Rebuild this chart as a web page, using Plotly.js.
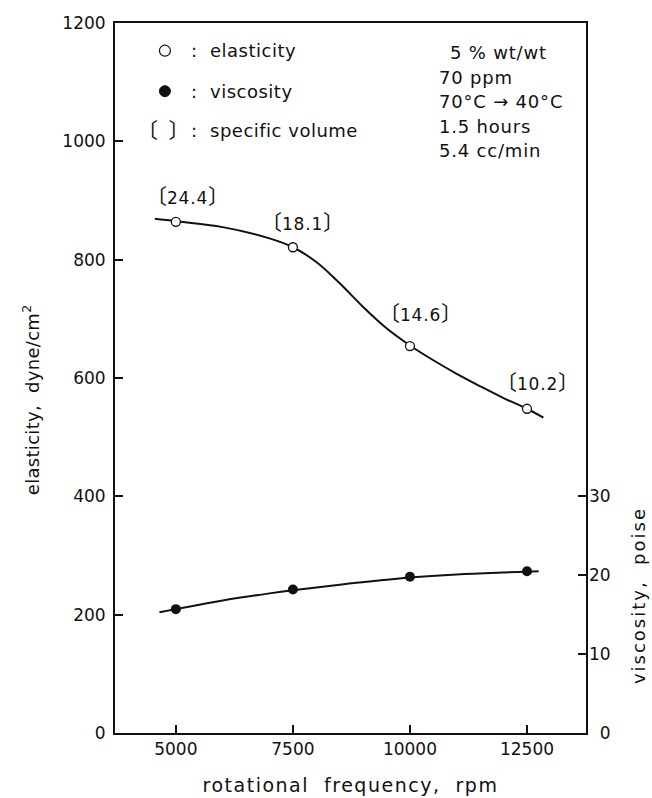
<!DOCTYPE html>
<html>
<head>
<meta charset="utf-8">
<script src="https://cdn.plot.ly/plotly-3.0.1.min.js"></script>
<style>html,body{margin:0;padding:0;background:#fff;}#chart{width:652px;height:798px;}</style>
</head>
<body>
<div id="chart"></div>
<script>
// ---- data ----
const rpm = [5000, 7500, 10000, 12500];
const elasticity = [864, 821, 654, 548];          // dyne/cm^2 (open circles)
const viscosity = [15.7, 18.2, 19.8, 20.5];       // poise (filled circles)
const specificVolume = ['24.4', '18.1', '14.6', '10.2'];

// smooth fitted curves as drawn in the reference
const elasticityCurveRpm = [4550, 5000, 6000, 7000, 7500, 8000, 8500, 9000, 9500, 10000, 10500, 11000, 11500, 12000, 12500, 12850];
const elasticityCurve    = [869,  865,  855,  836,  821,  796,  760,  720,  684,  655,   630,   607,   586,   566,   548,   533];
const viscosityCurveRpm  = [4650, 5000, 6000, 7000, 7500, 8500, 10000, 11000, 12000, 12500, 12750];
const viscosityCurve     = [15.3, 15.7, 16.8, 17.7, 18.1, 18.8, 19.7,  20.1,  20.35, 20.45, 20.5];

const xTicks = [5000, 7500, 10000, 12500];
const yTicks = [0, 200, 400, 600, 800, 1000, 1200];
const y2Ticks = [0, 10, 20, 30];
const y2TickText = ['\u20070', '10', '20', '30'];

const legendItems = [': \u00a0elasticity', ': \u00a0viscosity', ': \u00a0specific volume'];
const conditionLines = ['5 % wt/wt', '70 ppm', '70\u00b0C \u2192 40\u00b0C', '1.5 hours', '5.4 cc/min'];

const FONT = 'DejaVu Sans, Noto Sans CJK JP, sans-serif';
const BLK = '#111';
const sp = (t, px) => '<span style="letter-spacing:' + px + 'px">' + t + '</span>';
const br = (c) => '<span style="font-size:21px">' + c + '</span>';

const traces = [
  {x: elasticityCurveRpm, y: elasticityCurve, mode: 'lines', line: {color: BLK, width: 2, shape: 'spline', smoothing: 1}, hoverinfo: 'skip', showlegend: false},
  {x: viscosityCurveRpm, y: viscosityCurve, yaxis: 'y2', mode: 'lines', line: {color: BLK, width: 2, shape: 'spline', smoothing: 1}, hoverinfo: 'skip', showlegend: false},
  {x: rpm, y: elasticity, mode: 'markers', marker: {symbol: 'circle', size: 9, color: '#fff', line: {color: BLK, width: 1.3}}, showlegend: false, name: 'elasticity'},
  {x: rpm, y: viscosity, yaxis: 'y2', mode: 'markers', marker: {symbol: 'circle', size: 10, color: BLK, line: {width: 0}}, showlegend: false, name: 'viscosity'}
];

const annotations = [];
const shifts = [[12, 25], [10, 24], [11, 32], [10, 26]];
specificVolume.forEach((v, i) => {
  annotations.push({x: rpm[i], y: elasticity[i], xref: 'x', yref: 'y', text: br('\u3014') + sp(v, 0.8) + br('\u3015'), showarrow: false,
    xshift: shifts[i][0], yshift: shifts[i][1], font: {family: FONT, size: 17, color: BLK}});
});
const legY = [0.961, 0.904, 0.848];
legendItems.forEach((t, i) => {
  annotations.push({x: 0.157, y: legY[i], xref: 'paper', yref: 'paper', xanchor: 'left', yanchor: 'middle', text: sp(t, 0.5), showarrow: false,
    font: {family: FONT, size: 18, color: BLK}});
});
annotations.push({x: 0.104, y: legY[2], xref: 'paper', yref: 'paper', xanchor: 'center', yanchor: 'middle', text: br('\u3014\u2002\u3015'), showarrow: false,
  font: {family: FONT, size: 17, color: BLK}});
const condY = [0.959, 0.923, 0.889, 0.854, 0.820];
conditionLines.forEach((t, i) => {
  annotations.push({x: i === 0 ? 0.707 : 0.684, y: condY[i], xref: 'paper', yref: 'paper', xanchor: 'left', yanchor: 'middle', text: sp(t, 0.8), showarrow: false,
    font: {family: FONT, size: 18, color: BLK}});
});
annotations.push({x: -0.178, y: 0.469, xref: 'paper', yref: 'paper', xanchor: 'center', yanchor: 'middle', textangle: -90,
  text: sp('elasticity, \u00a0dyne/cm', 0.3) + '<sup>2</sup>', showarrow: false, font: {family: FONT, size: 18, color: BLK}});
annotations.push({x: 1.110, y: 0.194, xref: 'paper', yref: 'paper', xanchor: 'center', yanchor: 'middle', textangle: -90,
  text: sp('viscosity, \u00a0poise', 2), showarrow: false, font: {family: FONT, size: 18, color: BLK}});

const shapes = [
  {type: 'circle', xref: 'paper', yref: 'paper', x0: 0.106 - 0.0117, x1: 0.106 + 0.0117, y0: legY[0] - 0.0077, y1: legY[0] + 0.0077, line: {color: BLK, width: 1.2}, fillcolor: '#fff'},
  {type: 'circle', xref: 'paper', yref: 'paper', x0: 0.106 - 0.0117, x1: 0.106 + 0.0117, y0: legY[1] - 0.0077, y1: legY[1] + 0.0077, line: {color: BLK, width: 1}, fillcolor: BLK}
];

const axisCommon = {showgrid: false, zeroline: false, ticks: 'inside', ticklen: 8, tickwidth: 2, tickcolor: BLK,
  tickfont: {family: FONT, size: 17, color: BLK}};

const layout = {
  width: 652, height: 798,
  margin: {l: 115, r: 66, t: 23, b: 65},
  paper_bgcolor: '#fff', plot_bgcolor: '#fff',
  font: {family: FONT, color: BLK},
  showlegend: false,
  xaxis: Object.assign({}, axisCommon, {range: [3700, 13760], tickvals: xTicks, tickformat: 'd', showline: true, linewidth: 2, linecolor: BLK, mirror: true,
    title: {text: sp('rotational \u00a0frequency, \u00a0rpm', 1.5), font: {family: FONT, size: 19, color: BLK}, standoff: 20}}),
  yaxis: Object.assign({}, axisCommon, {range: [0, 1200], tickvals: yTicks, showline: true, linewidth: 2, linecolor: BLK, mirror: true, ticklabelstandoff: 4}),
  yaxis2: Object.assign({}, axisCommon, {overlaying: 'y', side: 'right', range: [0, 90], tickvals: y2Ticks, ticktext: y2TickText, showline: false, ticklabelstandoff: 2}),
  annotations: annotations,
  shapes: shapes
};

Plotly.newPlot('chart', traces, layout, {displayModeBar: false, staticPlot: true});
</script>
</body>
</html>
